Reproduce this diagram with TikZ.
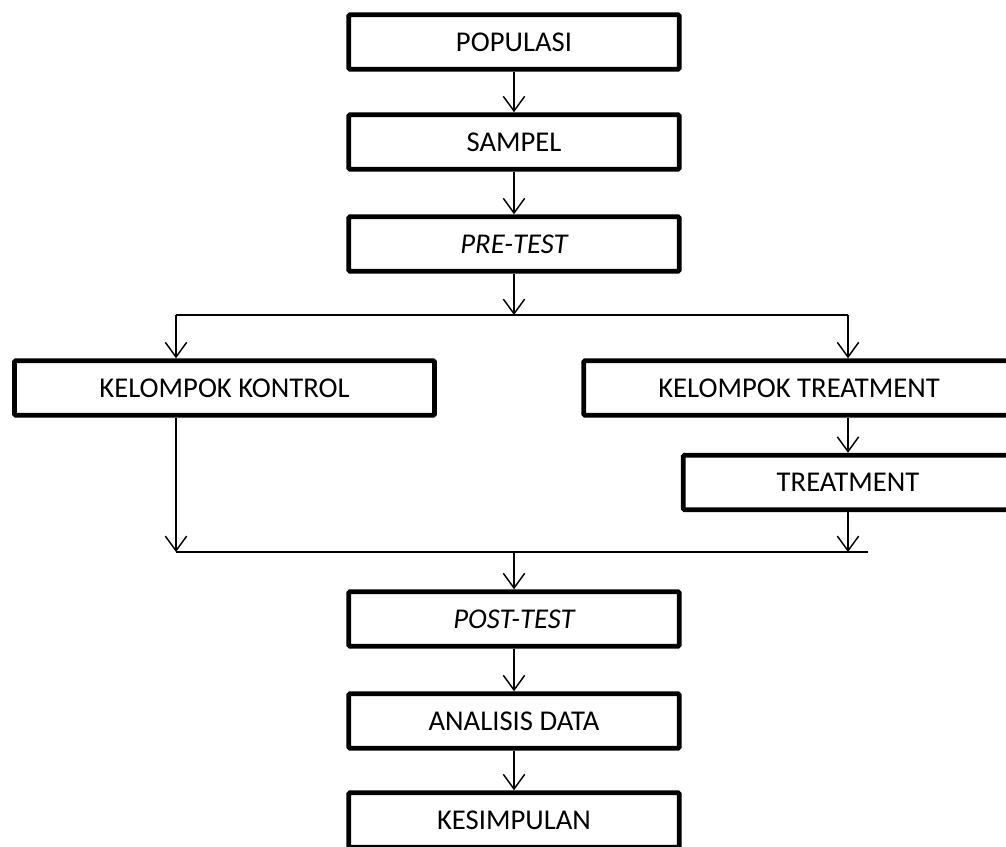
\documentclass[tikz,border=0pt]{standalone}
\usepackage{fontspec}
\setmainfont{Carlito}
\usetikzlibrary{arrows.meta}

\begin{document}
\begin{tikzpicture}[x=0.75pt, y=0.75pt,
        kotak/.style={draw, line width=3.6pt, rounded corners=1pt, fill=white, inner sep=0pt,
            minimum height=41pt, font=\fontsize{21.5}{26}\selectfont},
        panah/.style={line width=1.1pt, -{Straight Barb[length=11pt, width=16pt, line width=1.1pt]}},
        garis/.style={line width=1pt}]
         \useasboundingbox (0,0) rectangle (1006,-846);
         \clip (0,0) rectangle (1006,-846);

         % alur tengah atas
         \node[kotak, minimum width=248pt] (populasi) at (514,-42) {POPULASI};
         \node[kotak, minimum width=248pt] (sampel) at (514,-142) {SAMPEL};
         \node[kotak, minimum width=248pt] (pretest) at (514,-244) {\itshape PRE-TEST};

         % dua kelompok
         \node[kotak, minimum width=315pt] (kontrol) at (224.5,-388) {KELOMPOK KONTROL};
         \node[kotak, minimum width=323pt] (keltreat) at (799,-388) {KELOMPOK TREATMENT};
         \node[kotak, minimum width=247pt] (treat) at (848,-482.5) {TREATMENT};

         % alur tengah bawah
         \node[kotak, minimum width=248pt] (posttest) at (514,-619) {\itshape POST-TEST};
         \node[kotak, minimum width=248pt] (analisis) at (514,-721) {ANALISIS DATA};
         \node[kotak, minimum width=248pt] (kesimpulan) at (514,-820) {KESIMPULAN};

         \coordinate (bagiL) at (176,-315);
         \coordinate (bagiR) at (848,-315);
         \coordinate (gabungL) at (176,-552);
         \coordinate (gabungR) at (868,-552);

         \draw[panah] (populasi) -- (sampel);
         \draw[panah] (sampel) -- (pretest);
         \draw[panah] (pretest) -- (pretest.south |- bagiL);
         \draw[garis] (bagiL) -- (bagiR);
         \draw[panah] (bagiL) -- (bagiL |- kontrol.north);
         \draw[panah] (bagiR) -- (bagiR |- keltreat.north);
         \draw[panah] (bagiR |- keltreat.south) -- (bagiR |- treat.north);
         \draw[panah] (bagiL |- kontrol.south) -- (gabungL);
         \draw[panah] (bagiR |- treat.south) -- (bagiR |- gabungL);
         \draw[garis] (gabungL) -- (gabungR);
         \draw[panah] (posttest.north |- gabungL) -- (posttest);
         \draw[panah] (posttest) -- (analisis);
         \draw[panah] (analisis) -- (kesimpulan);
\end{tikzpicture}
\end{document}
